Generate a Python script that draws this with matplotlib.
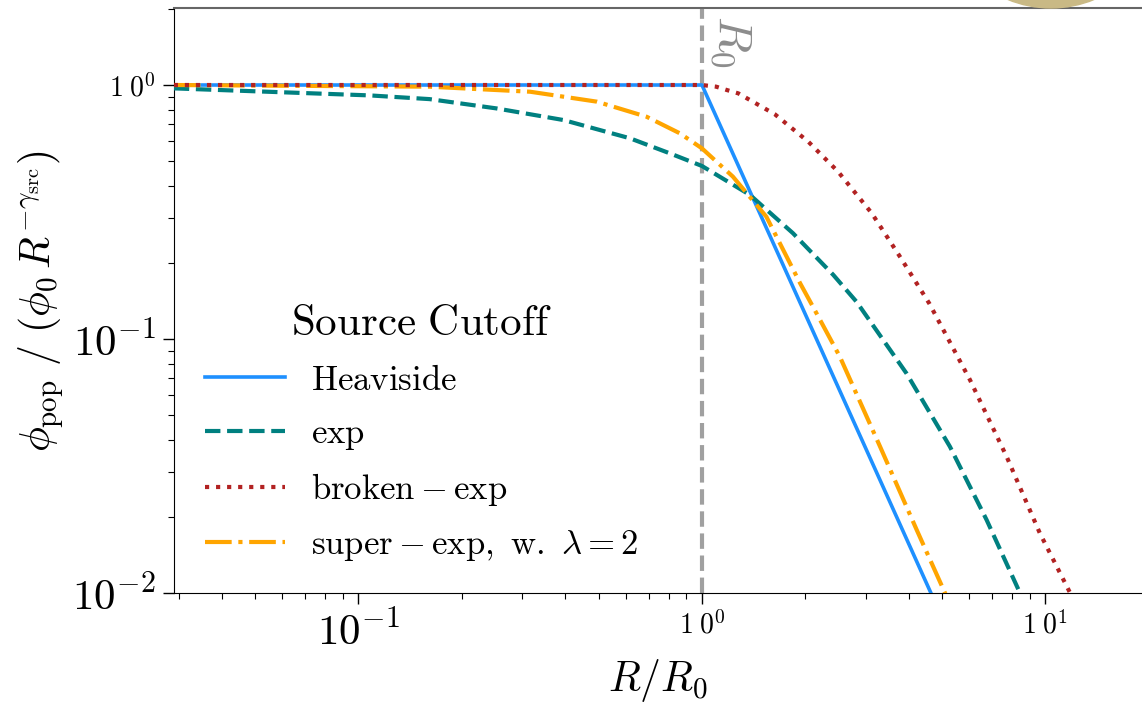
import matplotlib
matplotlib.use("Agg")
import matplotlib.pyplot as plt
from matplotlib.patches import Ellipse
from matplotlib.ticker import FixedLocator, LogLocator, NullFormatter

plt.rcParams["mathtext.fontset"] = "cm"
plt.rcParams["font.family"] = ["DejaVu Serif"]

# ---- data: cutoff profiles phi_pop / (phi_0 R^-gamma_src) vs R/R_0 ----
R_heaviside = [0.029, 1.0, 2.0, 4.64, 20.0]
phi_heaviside = [1.0, 1.0, 0.125, 0.01, 1.25e-4]

R_exp = [0.029, 0.108, 0.161, 0.252, 0.395, 0.617, 0.807, 1.0, 1.38, 1.84,
         2.41, 2.82, 3.94, 5.27, 6.74, 8.43, 9.5]
phi_exp = [0.97, 0.91, 0.88, 0.809, 0.728, 0.617, 0.538, 0.48, 0.369, 0.261,
           0.179, 0.140, 0.0732, 0.0377, 0.0194, 0.01, 0.0068]

R_broken = [0.029, 1.0, 1.1, 1.18, 1.276, 1.63, 2.04, 2.49, 3.12, 3.77, 4.59,
            6.03, 7.71, 9.63, 11.8, 13.0]
phi_broken = [1.0, 1.0, 0.985, 0.956, 0.927, 0.767, 0.598, 0.456, 0.313, 0.211,
              0.138, 0.069, 0.0344, 0.0172, 0.01, 0.0077]

R_super = [0.029, 0.161, 0.316, 0.494, 0.69, 0.863, 1.0, 1.23, 1.54, 1.93,
           2.13, 2.52, 3.30, 4.22, 5.10, 6.0]
phi_super = [1.0, 0.985, 0.941, 0.86, 0.75, 0.645, 0.563, 0.436, 0.303, 0.166,
             0.130, 0.0852, 0.0377, 0.0177, 0.01, 0.0061]

legend_labels = [r"$\mathrm{Heaviside}$", r"$\mathrm{exp}$",
                 r"$\mathrm{broken}-\mathrm{exp}$",
                 r"$\mathrm{super}-\mathrm{exp},\ \mathrm{w.}\ \lambda=2$"]
legend_title = r"$\mathrm{Source\ Cutoff}$"

xtick_values = [0.1, 1.0, 10.0]
xtick_labels = [r"$10^{-1}$", r"$1\;0^{0}$", r"$1\;0^{1}$"]
ytick_values = [0.01, 0.1, 1.0]
ytick_labels = [r"$10^{-2}$", r"$10^{-1}$", r"$1\;0^{0}$"]

# ---- figure ----
W, H = 1142, 705
fig = plt.figure(figsize=(W / 100, H / 100), dpi=100)
ax = fig.add_axes([174 / W, (H - 593) / H, (W - 174) / W, (593 - 8) / H])

ax.plot(R_heaviside, phi_heaviside, color="#1E90FF", lw=2.6, ls="-",
        label=legend_labels[0], zorder=3)
ax.plot(R_exp, phi_exp, color="#008080", lw=3.0, ls="--",
        label=legend_labels[1], zorder=3)
ax.plot(R_broken, phi_broken, color="#B22222", lw=3.0, ls=":",
        label=legend_labels[2], zorder=4)
ax.plot(R_super, phi_super, color="#FFA500", lw=3.0, ls="-.",
        label=legend_labels[3], zorder=3)

ax.axvline(1.0, color="gray", lw=3.0, ls="--", alpha=0.75, zorder=2)
ax.text(1.05, 1.89, r"$R_0$", rotation=-90, ha="left", va="top",
        color="gray", fontsize=34, alpha=0.9)

ax.set_xscale("log")
ax.set_yscale("log")
ax.set_xlim(0.02904, 19.1)
ax.set_ylim(0.01, 2.01)

ax.xaxis.set_major_locator(FixedLocator(xtick_values))
ax.set_xticklabels(xtick_labels)
ax.yaxis.set_major_locator(FixedLocator(ytick_values))
ax.set_yticklabels(ytick_labels)
for axis in (ax.xaxis, ax.yaxis):
    axis.set_minor_locator(LogLocator(base=10, subs=range(2, 10), numticks=20))
    axis.set_minor_formatter(NullFormatter())

for lab in ax.get_xticklabels() + ax.get_yticklabels():
    lab.set_fontsize(31 if "-" in lab.get_text() else 20)

ax.tick_params(which="major", direction="out", length=8, width=1.0, pad=5,
               top=False, right=False)
ax.tick_params(which="minor", direction="out", length=4.5, width=0.8,
               top=False, right=False)

ax.spines["right"].set_visible(False)
ax.spines["top"].set_color("#666666")
ax.spines["top"].set_linewidth(1.5)

ax.set_xlabel(r"$R/R_0$", fontsize=30, labelpad=2)
ax.set_ylabel(r"$\phi_{\rm pop}\ /\ (\phi_0\, R^{-\gamma_{\rm src}})$",
              fontsize=30, labelpad=4)

leg = ax.legend(loc="lower left", bbox_to_anchor=(0.0, -0.002), frameon=False,
                fontsize=25, title=legend_title, title_fontsize=31,
                handlelength=2.3, handletextpad=0.75, labelspacing=0.55)

fig.patches.append(Ellipse((1051 / W, (H - 8 + 114) / H), 2 * 114 / W,
                           2 * 114 / H, transform=fig.transFigure,
                           color="#C9B985", zorder=0))

fig.savefig("out.png", dpi=100)
